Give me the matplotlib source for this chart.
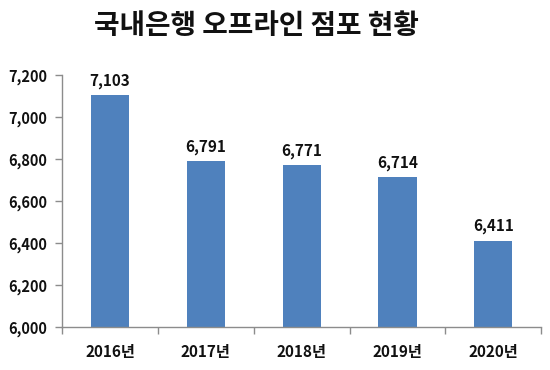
import numpy as np
import matplotlib
matplotlib.use("Agg")
import matplotlib.pyplot as plt
from matplotlib.ticker import FuncFormatter, MultipleLocator

plt.rcParams["font.family"] = ["Noto Sans CJK KR", "DejaVu Sans"]

years = ["2016년", "2017년", "2018년", "2019년", "2020년"]
branches = [7103, 6791, 6771, 6714, 6411]

BAR = "#4f81bd"; AX = "#8c8c8c"; INK = "#111111"

fig = plt.figure(figsize=(5.5, 3.7), dpi=100)
ax = fig.add_axes([0.113, 0.116, 0.871, 0.681])
x = np.arange(len(years))
ax.bar(x, branches, width=0.4, color=BAR, zorder=2)
for xi, v in zip(x, branches):
    ax.text(xi, v + 30, f"{v:,}", ha="center", va="bottom",
            fontsize=11, fontweight="bold", color=INK)

ax.set_ylim(6000, 7200)
ax.set_xlim(-0.5, len(years) - 0.5)
ax.yaxis.set_major_locator(MultipleLocator(200))
ax.yaxis.set_major_formatter(FuncFormatter(lambda v, p: f"{int(v):,}"))
ax.set_xticks(x)
ax.set_xticklabels(years)
ax.set_xticks(np.arange(-0.5, len(years)), minor=True)
ax.tick_params(axis="x", which="major", length=0, pad=12, labelsize=11, labelcolor=INK)
ax.tick_params(axis="x", which="minor", length=5, color=AX, width=1)
ax.tick_params(axis="y", length=5, color=AX, width=1, pad=6, labelsize=10.5, labelcolor=INK)
for lab in ax.get_xticklabels() + ax.get_yticklabels():
    lab.set_fontweight("bold")
for s in ("top", "right"):
    ax.spines[s].set_visible(False)
for s in ("left", "bottom"):
    ax.spines[s].set_color(AX)
    ax.spines[s].set_linewidth(1)

fig.text(0.466, 0.93, "국내은행 오프라인 점포 현황", ha="center", va="center",
         fontsize=20, fontweight="bold", color=INK)
fig.savefig("out.png", dpi=100, facecolor="white")
